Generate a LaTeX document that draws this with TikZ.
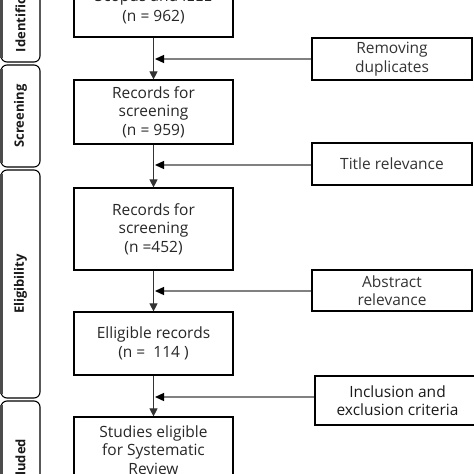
\documentclass[tikz,border=0pt]{standalone}
\usepackage{fontspec}
\setmainfont{Open Sans}
\usetikzlibrary{arrows.meta}
\definecolor{maintxt}{HTML}{262626}
\definecolor{sidetxt}{HTML}{333333}
\definecolor{sideline}{HTML}{808080}
\begin{document}
\begin{tikzpicture}[x=1pt,y=-1pt,
  mainbox/.style={draw=black, line width=1.2pt, text=maintxt, align=center,
    font=\fontsize{15.5}{18.5}\selectfont, inner sep=0pt, minimum width=159pt},
  sidebox/.style={draw=black, line width=1.2pt, text=sidetxt, align=center,
    font=\fontsize{15.5}{18.5}\selectfont, inner sep=0pt, minimum width=160pt},
  stagebox/.style={draw=black, line width=1.1pt, rounded corners=6pt, rotate=90,
    font=\fontsize{13}{15}\selectfont\bfseries, text=black!90, inner sep=0pt, minimum height=39pt},
  varrow/.style={draw=black!80, line width=1pt, -{Triangle[length=8pt,width=8pt]}},
  sarrow/.style={draw=sideline, line width=1.3pt, -{Triangle[length=9pt,width=8pt,color=black]}}
]
\useasboundingbox (0,0) rectangle (474,474);
\clip (0,0) rectangle (474,474);

% stage column
\node[stagebox, minimum width=108pt] (st1) at (20.5,8) {Identification};
\node[stagebox, minimum width=102pt] (st2) at (20.5,116) {Screening};
\node[stagebox, minimum width=228pt] (st3) at (20.5,284) {Eligibility};
\node[stagebox, minimum width=132pt] (st4) at (20.5,467) {Included};
\fill[black!70] (0,-46) rectangle (2.5,58);
\fill[black!70] (0,69) rectangle (2.5,163);
\fill[black!70] (0,174) rectangle (2.5,394);
\fill[black!70] (0,405) rectangle (2.5,533);

% main flow
\node[mainbox, minimum height=60.5pt] (b1) at (153.5,6.75) {Scopus and IEEE\\[2pt](n = 962)};
\node[mainbox, minimum height=64pt] (b2) at (153.5,112) {Records for\\screening\\(n = 959)};
\node[mainbox, minimum height=82pt] (b3) at (153.5,229) {Records for\\screening\\(n =452)};
\node[mainbox, minimum height=63pt] (b4) at (153.5,343.5) {Elligible records\\(n =\ \ 114 )};
\node[mainbox, minimum height=66pt] (b5) at (153.5,450) {Studies eligible\\for Systematic\\Review};

% side boxes
\node[sidebox, minimum height=42pt] (s1) at (392,59) {Removing\\duplicates};
\node[sidebox, minimum height=42pt] (s2) at (392,164) {Title relevance};
\node[sidebox, minimum height=41pt] (s3) at (392,290.5) {Abstract\\relevance};
\node[sidebox, minimum width=165pt, minimum height=49pt, text=black!90] (s4) at (397.5,400.5) {Inclusion and\\exclusion criteria};

% vertical arrows
\draw[varrow] (b1) -- (b2);
\draw[varrow] (b2) -- (b3);
\draw[varrow] (b3) -- (b4);
\draw[varrow] (b4) -- (b5);

% side arrows
\coordinate (j1) at (155,59);
\coordinate (j2) at (155,165);
\coordinate (j3) at (155,291);
\coordinate (j4) at (155,397);
\draw[sarrow] (s1.west) -- (j1);
\draw[sarrow] (s2.west |- j2) -- (j2);
\draw[sarrow] (s3.west |- j3) -- (j3);
\draw[sarrow] (s4.west |- j4) -- (j4);
\end{tikzpicture}
\end{document}
